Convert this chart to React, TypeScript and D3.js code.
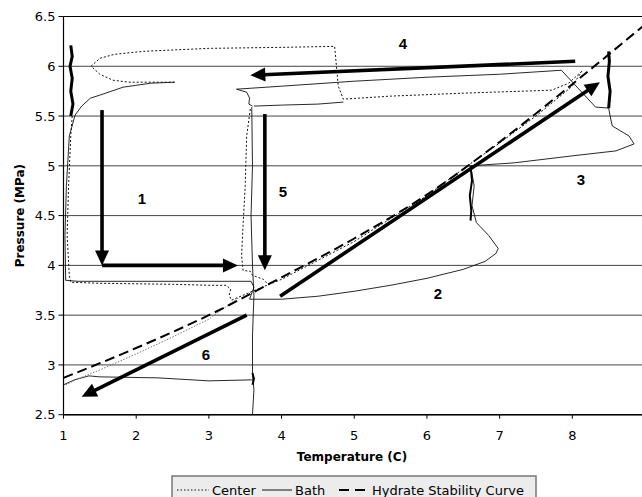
import React from 'react';
import * as d3 from 'd3';

type Pt = [number, number];

// hydrate stability curve (temperature C, pressure MPa)
const hydrateCurve: Pt[] = [
  [1, 2.87], [2, 3.17], [3, 3.5], [4, 3.88], [5, 4.27], [6, 4.71], [7, 5.24], [8, 5.82], [9, 6.42],
];

// center thermocouple trace pieces
const centerTop: Pt[] = [
  [8.13, 5.95], [7.95, 5.83], [7.72, 5.76], [6.5, 5.73], [5.5, 5.7], [4.85, 5.67], [4.78, 5.8],
  [4.73, 6.2], [4.0, 6.19], [3.0, 6.18], [2.1, 6.15], [1.7, 6.12], [1.5, 6.08], [1.38, 6.0],
  [1.5, 5.92], [1.68, 5.86], [1.9, 5.84], [2.53, 5.84],
];
const centerWarm: Pt[] = [
  [1.12, 5.5], [1.1, 5.3], [1.07, 4.8], [1.05, 4.3], [1.08, 3.9], [1.1, 3.83], [1.5, 3.82],
  [2.5, 3.81], [3.0, 3.8], [3.24, 3.8], [3.3, 3.76], [3.28, 3.7], [3.31, 3.65], [3.6, 3.74],
  [4.0, 3.86], [4.5, 4.05], [5.0, 4.24], [5.5, 4.47], [6.0, 4.7], [6.5, 4.97], [7.0, 5.23],
  [7.5, 5.5], [8.0, 5.8], [8.13, 5.95],
];
const centerDrop: Pt[] = [
  [3.57, 5.57], [3.52, 5.3], [3.5, 4.8], [3.47, 4.4], [3.45, 4.1], [3.47, 3.95], [3.57, 3.94],
  [3.6, 3.9], [3.75, 3.86], [3.8, 3.82],
];
const centerCool: Pt[] = [
  [3.4, 3.67], [3.0, 3.46], [2.5, 3.28], [2.0, 3.11], [1.5, 2.95], [1.2, 2.86], [1.03, 2.8],
];

// bath thermocouple trace pieces
const bathLoop: Pt[] = [
  [2.53, 5.84], [2.2, 5.83], [1.82, 5.79], [1.5, 5.71], [1.37, 5.68], [1.25, 5.6], [1.16, 5.51],
  [1.08, 5.3], [1.04, 4.8], [1.02, 4.3], [1.03, 3.85], [1.2, 3.84], [2.0, 3.84], [3.0, 3.84],
  [3.58, 3.84], [3.62, 3.78], [3.58, 3.7], [3.56, 3.66], [4.0, 3.66], [4.5, 3.69], [5.0, 3.74],
  [5.5, 3.8], [6.0, 3.87], [6.5, 3.96], [6.8, 4.04], [6.95, 4.12], [6.98, 4.17], [6.85, 4.3],
  [6.68, 4.43], [6.62, 4.6], [6.65, 4.8], [6.6, 5.0], [7.2, 5.03], [8.0, 5.1], [8.6, 5.15],
  [8.85, 5.22], [8.78, 5.3], [8.55, 5.4], [8.52, 5.5], [8.5, 5.58], [8.32, 5.59], [7.85, 5.96],
  [7.0, 5.92], [6.0, 5.89], [5.0, 5.85], [4.0, 5.8], [3.38, 5.77], [3.52, 5.74], [3.56, 5.68],
  [3.55, 5.62], [3.6, 5.6],
];
const bathShelf: Pt[] = [[3.62, 5.6], [4.0, 5.61], [4.5, 5.62], [4.85, 5.64]];
const bathVertical: Pt[] = [
  [3.59, 5.59], [3.6, 5.0], [3.58, 4.5], [3.6, 4.0], [3.62, 3.7], [3.6, 3.3], [3.6, 2.9],
  [3.62, 2.75], [3.6, 2.5],
];
const bathCool: Pt[] = [
  [3.6, 2.85], [3.0, 2.84], [2.3, 2.87], [1.5, 2.88], [1.35, 2.89], [1.15, 2.85], [1.0, 2.8],
];

// noisy thick spots
const noiseLeft: Pt[] = [[1.1, 5.5], [1.13, 5.62], [1.1, 5.75], [1.12, 5.88], [1.09, 6.0], [1.12, 6.1], [1.1, 6.21]];
const noiseRight: Pt[] = [[8.5, 5.58], [8.52, 5.75], [8.49, 5.9], [8.51, 6.05], [8.5, 6.15]];
const noiseMid: Pt[] = [[6.6, 5.0], [6.62, 4.85], [6.59, 4.7], [6.61, 4.55], [6.6, 4.45]];
const noiseLow: Pt[] = [[3.6, 2.92], [3.62, 2.86], [3.6, 2.8]];

// process arrows
const arrows: { from: Pt; to: Pt }[] = [
  { from: [1.53, 5.56], to: [1.53, 4.0] },
  { from: [1.53, 4.0], to: [3.4, 4.0] },
  { from: [3.77, 5.52], to: [3.77, 3.95] },
  { from: [8.04, 6.05], to: [3.57, 5.91] },
  { from: [3.98, 3.69], to: [8.38, 5.84] },
  { from: [3.52, 3.5], to: [1.25, 2.68] },
];
const stageLabels: { text: string; at: Pt }[] = [
  { text: '1', at: [2.08, 4.67] },
  { text: '2', at: [6.15, 3.72] },
  { text: '3', at: [8.12, 4.86] },
  { text: '4', at: [5.67, 6.23] },
  { text: '5', at: [4.02, 4.74] },
  { text: '6', at: [2.96, 3.1] },
];

const xTicks = [1, 2, 3, 4, 5, 6, 7, 8];
const yTicks = [2.5, 3, 3.5, 4, 4.5, 5, 5.5, 6, 6.5];

export default function App() {
  const W = 642, H = 497;
  const x = d3.scaleLinear().domain([1, 9]).range([63.5, 645]);
  const y = d3.scaleLinear().domain([2.5, 6.5]).range([414.7, 16.5]);
  const line = d3.line<Pt>().x(d => x(d[0])).y(d => y(d[1]));
  const smooth = d3.line<Pt>().x(d => x(d[0])).y(d => y(d[1])).curve(d3.curveMonotoneX);

  const arrowShape = (a: { from: Pt; to: Pt }, i: number) => {
    const x1 = x(a.from[0]), y1 = y(a.from[1]), x2 = x(a.to[0]), y2 = y(a.to[1]);
    const len = Math.hypot(x2 - x1, y2 - y1);
    const ux = (x2 - x1) / len, uy = (y2 - y1) / len;
    const hl = 15, hw = 7;
    const bx = x2 - ux * hl, by = y2 - uy * hl;
    const pts = `${x2},${y2} ${bx - uy * hw},${by + ux * hw} ${bx + uy * hw},${by - ux * hw}`;
    return (
      <g key={i}>
        <line x1={x1} y1={y1} x2={bx + ux * 2} y2={by + uy * 2} stroke="#000" strokeWidth={3.6} />
        <polygon points={pts} fill="#000" />
      </g>
    );
  };

  const font = 'DejaVu Sans, Verdana, sans-serif';
  const x0 = x(1), xr = W;

  return (
    <svg width={W} height={H} style={{ position: 'absolute', left: 0, top: 0, background: '#fff' }}>
      {/* grid */}
      {yTicks.map(t => (
        <line key={t} x1={x0} x2={xr} y1={y(t)} y2={y(t)} stroke={t === 6.5 ? '#000' : '#444'} strokeWidth={1} />
      ))}
      {/* axes */}
      <line x1={x0} x2={x0} y1={y(6.5)} y2={y(2.5)} stroke="#000" strokeWidth={1.2} />
      <line x1={x0} x2={xr} y1={y(2.5)} y2={y(2.5)} stroke="#000" strokeWidth={1.5} />
      {yTicks.map(t => (
        <g key={'y' + t}>
          <line x1={x0 - 5} x2={x0} y1={y(t)} y2={y(t)} stroke="#000" />
          <text x={x0 - 8} y={y(t)} dy="0.36em" textAnchor="end" fontFamily={font} fontSize={13}>{t}</text>
        </g>
      ))}
      {xTicks.map(t => (
        <g key={'x' + t}>
          <line x1={x(t)} x2={x(t)} y1={y(2.5)} y2={y(2.5) + 4} stroke="#000" />
          <text x={x(t)} y={y(2.5) + 25} textAnchor="middle" fontFamily={font} fontSize={13}>{t}</text>
        </g>
      ))}
      <text x={352} y={461} textAnchor="middle" fontFamily={font} fontWeight="bold" fontSize={12}>Temperature (C)</text>
      <text transform={`translate(24,${(y(6.5) + y(2.5)) / 2}) rotate(-90)`} textAnchor="middle" fontFamily={font} fontWeight="bold" fontSize={12}>Pressure (MPa)</text>

      {/* traces */}
      <g fill="none">
        {[bathLoop, bathShelf, bathVertical, bathCool].map((s, i) => (
          <path key={'b' + i} d={line(s) || ''} stroke="#111" strokeWidth={0.9} />
        ))}
        {[centerTop, centerWarm, centerDrop].map((s, i) => (
          <path key={'c' + i} d={line(s) || ''} stroke="#111" strokeWidth={1} strokeDasharray="2,2" />
        ))}
        <path d={line(centerCool) || ''} stroke="#777" strokeWidth={1} strokeDasharray="1.5,1.5" />
        {[noiseLeft, noiseRight].map((s, i) => (
          <path key={'n' + i} d={line(s) || ''} stroke="#000" strokeWidth={3} />
        ))}
        {[noiseMid, noiseLow].map((s, i) => (
          <path key={'m' + i} d={line(s) || ''} stroke="#000" strokeWidth={2} />
        ))}
        <path d={smooth(hydrateCurve) || ''} stroke="#000" strokeWidth={2} strokeDasharray="10,5" />
      </g>

      {arrows.map(arrowShape)}
      {stageLabels.map(l => (
        <text key={l.text} x={x(l.at[0])} y={y(l.at[1])} dy="0.36em" textAnchor="middle"
          fontFamily="Liberation Sans, Arial, sans-serif" fontWeight="bold" fontSize={15}>{l.text}</text>
      ))}

      {/* legend */}
      <g>
        <rect x={172} y={476} width={364} height={30} fill="#ececec" stroke="#777" strokeWidth={1.5} />
        <line x1={177} x2={209} y1={490} y2={490} stroke="#111" strokeDasharray="1.5,2" />
        <text x={212} y={494.5} fontFamily={font} fontSize={13}>Center</text>
        <line x1={262} x2={292} y1={490} y2={490} stroke="#111" strokeWidth={1} />
        <text x={295} y={494.5} fontFamily={font} fontSize={13}>Bath</text>
        <line x1={339} x2={368} y1={490} y2={490} stroke="#000" strokeWidth={2} strokeDasharray="10,6" />
        <text x={372} y={494.5} fontFamily={font} fontSize={13}>Hydrate Stability Curve</text>
      </g>
    </svg>
  );
}
